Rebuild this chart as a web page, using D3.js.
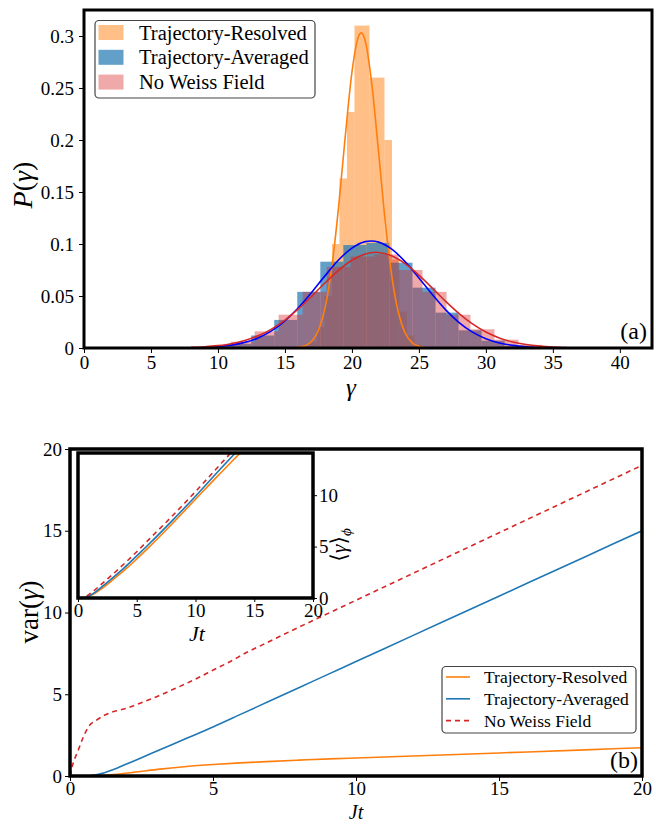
<!DOCTYPE html>
<html><head><meta charset="utf-8">
<script src="https://cdn.jsdelivr.net/npm/d3@7"></script>
<style>
body{margin:0;background:#fff}
svg{display:block}
</style>
</head><body>
<svg id="chart" width="656" height="824"></svg>
<script>
// ---------------- DATA ----------------
const seriesNames = ["Trajectory-Resolved", "Trajectory-Averaged", "No Weiss Field"];

// histogram (a): first bin left edge, bin width, bar heights P(gamma)
const histResolvedStart = 16.27, histResolvedWidth = 0.56;
const histResolved = [0.002, 0.006, 0.02, 0.05, 0.1, 0.163, 0.227, 0.31, 0.31, 0.26, 0.26, 0.2, 0.085, 0.035, 0.012, 0.003];
const histAveragedStart = 9.04, histAveragedWidth = 1.72;
const histAveraged = [0.001, 0.004, 0.012, 0.027, 0.054, 0.083, 0.099, 0.101, 0.082, 0.058, 0.034, 0.017, 0.007, 0.002];
const histNoWeissStart = 9.16, histNoWeissWidth = 1.79;
const histNoWeiss = [0.002, 0.006, 0.016, 0.032, 0.054, 0.078, 0.088, 0.09, 0.075, 0.054, 0.032, 0.018, 0.008, 0.003];

// fitted curves (a): gamma samples and P values
const fitResolvedG = [16, 16.5, 17, 17.5, 18, 18.5, 19, 19.5, 20, 20.5, 20.7, 21, 21.5, 22, 22.5, 23, 23.5, 24, 24.5, 25, 25.5];
const fitResolvedP = [0.0006, 0.0021, 0.0064, 0.017, 0.039, 0.078, 0.135, 0.203, 0.265, 0.300, 0.303, 0.295, 0.252, 0.187, 0.120, 0.067, 0.0325, 0.0137, 0.005, 0.0016, 0.0004];
const fitAveragedG = [9, 10, 11, 12, 13, 14, 15, 16, 17, 18, 19, 20, 21, 21.43, 22, 23, 24, 25, 26, 27, 28, 29, 30, 31, 32, 33, 34];
const fitAveragedP = [0.0006, 0.0013, 0.0028, 0.0054, 0.0097, 0.0164, 0.0261, 0.0387, 0.0536, 0.0696, 0.0846, 0.0961, 0.1023, 0.1029, 0.1018, 0.0948, 0.0826, 0.0674, 0.0514, 0.0367, 0.0245, 0.0153, 0.0090, 0.0049, 0.0025, 0.0012, 0.0005];
const fitNoWeissG = [8, 9, 10, 11, 12, 13, 14, 15, 16, 17, 18, 19, 20, 21, 21.8, 22, 23, 24, 25, 26, 27, 28, 29, 30, 31, 32, 33, 34, 35, 36];
const fitNoWeissP = [0.0006, 0.0012, 0.0023, 0.0041, 0.0072, 0.0117, 0.0182, 0.0269, 0.0376, 0.0498, 0.0627, 0.0747, 0.0844, 0.0904, 0.092, 0.0919, 0.0885, 0.0809, 0.0701, 0.0576, 0.0448, 0.0331, 0.0232, 0.0154, 0.0097, 0.0058, 0.0033, 0.0018, 0.0009, 0.0004];

// (b) var(gamma) vs Jt
const varResolvedJt = [0, 0.6, 1.0, 1.4, 2.2, 3.15, 4.08, 5.01, 5.94, 6.87, 8, 9.09, 10, 12, 14, 16, 18, 20];
const varResolved   = [0, 0, 0.03, 0.08, 0.22, 0.42, 0.58, 0.7, 0.8, 0.88, 0.97, 1.05, 1.1, 1.22, 1.35, 1.47, 1.6, 1.73];
const varAveragedJt = [0, 0.5, 1, 1.5, 2, 2.5, 3, 4, 5, 6, 7, 8, 9, 10, 12, 14, 16, 18, 20];
const varAveraged   = [0, 0, 0.1, 0.38, 0.75, 1.12, 1.5, 2.25, 3.0, 3.8, 4.6, 5.4, 6.2, 7.0, 8.6, 10.2, 11.8, 13.4, 15.0];
const varNoWeissJt  = [0, 0.06, 0.29, 0.47, 0.64, 0.93, 1.22, 1.63, 1.98, 2.45, 3.03, 3.61, 4.08, 4.55, 5.01, 5.59, 6.17, 6.76, 8, 9.09, 10, 12, 14, 16, 18, 20];
const varNoWeiss    = [0, 0.47, 1.59, 2.4, 3.0, 3.42, 3.73, 3.99, 4.14, 4.45, 4.85, 5.3, 5.67, 6.07, 6.48, 6.99, 7.55, 8.05, 9.1, 10.0, 10.75, 12.4, 14.05, 15.7, 17.35, 19.0];

// inset: <gamma>_phi vs Jt
const meanResolvedJt = [0, 0.5, 1, 1.5, 2, 3, 4, 5, 6, 8, 10, 12, 13.8, 14.3];
const meanResolved   = [0, 0, 0.2, 0.5, 0.9, 1.8, 2.75, 3.8, 4.9, 7.2, 9.6, 12.0, 14.1, 14.7];
const meanAveragedJt = [0, 0.5, 1, 1.5, 2, 3, 4, 5, 6, 8, 10, 12, 13.4, 14];
const meanAveraged   = [0, 0.02, 0.25, 0.6, 1.05, 2.0, 3.0, 4.1, 5.2, 7.5, 9.9, 12.4, 14.1, 14.8];
const meanNoWeissJt  = [0, 0.5, 1, 1.5, 2, 3, 4, 5, 6, 8, 10, 12, 13, 14];
const meanNoWeiss    = [0, 0.05, 0.4, 0.85, 1.35, 2.35, 3.4, 4.5, 5.65, 7.95, 10.35, 12.85, 14.1, 15.3];

// ticks
const histXTicks = [0, 5, 10, 15, 20, 25, 30, 35, 40];
const histYTicks = [0, 0.05, 0.1, 0.15, 0.2, 0.25, 0.3];
const histYTickLabels = ["0", "0.05", "0.1", "0.15", "0.2", "0.25", "0.3"];
const varTicks = [0, 5, 10, 15, 20];
const insetXTicks = [0, 5, 10, 15, 20];
const insetYTicks = [0, 5, 10];

// ---------------- STYLE ----------------
const FONT = "'Liberation Serif', 'DejaVu Serif', 'Noto Serif', serif";
const C = {orange: "#ff7f0e", blue: "#1f77b4", red: "#d62728", fitBlue: "#0000ff"};
const svg = d3.select("#chart");
const FS = 19;

function styleAxis(g, fs) {
  g.select(".domain").remove();
  g.attr("font-family", null);
  g.selectAll(".tick line").attr("stroke", "#000").attr("stroke-width", 1);
  g.selectAll(".tick text").attr("font-size", fs);
}

// ---------------- PANEL (a) ----------------
const xa = d3.scaleLinear().domain([0, 42.4]).range([84, 652]);
const ya = d3.scaleLinear().domain([0, 0.325]).range([348, 10]);

svg.append("clipPath").attr("id", "clipA").append("rect")
  .attr("x", 84).attr("y", 10).attr("width", 568).attr("height", 338);
const gA = svg.append("g").attr("clip-path", "url(#clipA)");

function drawHist(vals, start, width, color, op) {
  gA.append("g").selectAll("rect").data(vals).join("rect")
    .attr("x", (d, i) => xa(start + i * width))
    .attr("width", (d, i) => xa(start + (i + 1) * width) - xa(start + i * width))
    .attr("y", d => ya(d))
    .attr("height", d => ya(0) - ya(d))
    .attr("fill", color).attr("fill-opacity", op);
}
drawHist(histResolved, histResolvedStart, histResolvedWidth, C.orange, 0.5);
drawHist(histAveraged, histAveragedStart, histAveragedWidth, C.blue, 0.7);
drawHist(histNoWeiss, histNoWeissStart, histNoWeissWidth, C.red, 0.4);

const lineA = d3.line().x(d => xa(d[0])).y(d => ya(d[1])).curve(d3.curveMonotoneX);
function drawFit(G, P, color) {
  gA.append("path").datum(G.map((g, i) => [g, P[i]]))
    .attr("d", lineA).attr("fill", "none").attr("stroke", color).attr("stroke-width", 1.6);
}
drawFit(fitResolvedG, fitResolvedP, C.orange);
drawFit(fitAveragedG, fitAveragedP, C.fitBlue);
drawFit(fitNoWeissG, fitNoWeissP, C.red);

// axes (a)
const axA_x = svg.append("g").attr("transform", "translate(0,348)")
  .call(d3.axisBottom(xa).tickValues(histXTicks).tickSize(5).tickPadding(3).tickFormat(d3.format("d")));
styleAxis(axA_x, FS);
const axA_y = svg.append("g").attr("transform", "translate(84,0)")
  .call(d3.axisLeft(ya).tickValues(histYTicks).tickSize(5).tickPadding(5).tickFormat((d, i) => histYTickLabels[i]));
styleAxis(axA_y, FS);
svg.append("rect").attr("x", 84).attr("y", 10).attr("width", 568).attr("height", 338)
  .attr("fill", "none").attr("stroke", "#000").attr("stroke-width", 3);

// labels (a)
svg.append("text").attr("transform", "translate(32,185) rotate(-90)").attr("text-anchor", "middle")
  .attr("font-size", 28).html('<tspan font-style="italic">P</tspan>(<tspan font-style="italic">γ</tspan>)');
svg.append("text").attr("x", 351).attr("y", 396).attr("text-anchor", "middle")
  .attr("font-size", 25).attr("font-style", "italic").text("γ");
svg.append("text").attr("x", 647).attr("y", 339).attr("text-anchor", "end")
  .attr("font-size", 24).text("(a)");

// legend (a)
const legA = svg.append("g");
legA.append("rect").attr("x", 95).attr("y", 20.5).attr("width", 220).attr("height", 77.5).attr("rx", 4)
  .attr("fill", "#fff").attr("fill-opacity", 0.8).attr("stroke", "#444").attr("stroke-width", 1.2);
const legAColors = [[C.orange, 0.5], [C.blue, 0.7], [C.red, 0.4]];
seriesNames.forEach((n, i) => {
  const cy = 32.5 + i * 24.8;
  legA.append("rect").attr("x", 98.5).attr("y", cy - 7.5).attr("width", 25).attr("height", 15)
    .attr("fill", legAColors[i][0]).attr("fill-opacity", legAColors[i][1]);
  legA.append("text").attr("x", 139).attr("y", cy + 7).attr("font-size", 20.5).text(n);
});

// ---------------- PANEL (b) ----------------
const xb = d3.scaleLinear().domain([0, 20]).range([70, 642]);
const yb = d3.scaleLinear().domain([0, 20]).range([776, 449]);
svg.append("clipPath").attr("id", "clipB").append("rect")
  .attr("x", 70).attr("y", 449).attr("width", 572).attr("height", 327);
const gB = svg.append("g").attr("clip-path", "url(#clipB)");
const lineB = d3.line().x(d => xb(d[0])).y(d => yb(d[1])).curve(d3.curveMonotoneX);
function drawVar(T, V, color, dash) {
  gB.append("path").datum(T.map((t, i) => [t, V[i]])).attr("d", lineB)
    .attr("fill", "none").attr("stroke", color).attr("stroke-width", 1.6)
    .attr("stroke-dasharray", dash || null);
}
drawVar(varResolvedJt, varResolved, C.orange);
drawVar(varAveragedJt, varAveraged, C.blue);
drawVar(varNoWeissJt, varNoWeiss, C.red, "5,4");

const axB_x = svg.append("g").attr("transform", "translate(0,776)")
  .call(d3.axisBottom(xb).tickValues(varTicks).tickSize(5).tickPadding(1));
styleAxis(axB_x, FS);
const axB_y = svg.append("g").attr("transform", "translate(70,0)")
  .call(d3.axisLeft(yb).tickValues(varTicks).tickSize(5).tickPadding(3));
styleAxis(axB_y, FS);
svg.append("rect").attr("x", 70).attr("y", 449).attr("width", 572).attr("height", 327)
  .attr("fill", "none").attr("stroke", "#000").attr("stroke-width", 3.5);

svg.append("text").attr("transform", "translate(38,612) rotate(-90)").attr("text-anchor", "middle")
  .attr("font-size", 27).html('var(<tspan font-style="italic">γ</tspan>)');
svg.append("text").attr("x", 356).attr("y", 819).attr("text-anchor", "middle")
  .attr("font-size", 20).attr("font-style", "italic").text("Jt");
svg.append("text").attr("x", 638).attr("y", 768).attr("text-anchor", "end")
  .attr("font-size", 24).text("(b)");

// legend (b)
const legB = svg.append("g");
legB.append("rect").attr("x", 442).attr("y", 666.5).attr("width", 194).attr("height", 66.5).attr("rx", 4)
  .attr("fill", "#fff").attr("fill-opacity", 0.8).attr("stroke", "#444").attr("stroke-width", 1.2);
const legBColors = [C.orange, C.blue, C.red];
seriesNames.forEach((n, i) => {
  const cy = 677 + i * 21.8;
  legB.append("line").attr("x1", 446).attr("x2", 470).attr("y1", cy).attr("y2", cy)
    .attr("stroke", legBColors[i]).attr("stroke-width", 1.6)
    .attr("stroke-dasharray", i === 2 ? "5,4" : null);
  legB.append("text").attr("x", 484).attr("y", cy + 6).attr("font-size", 17.5).text(n);
});

// ---------------- INSET ----------------
const xi = d3.scaleLinear().domain([0, 20]).range([78, 313]);
const yi = d3.scaleLinear().domain([0, 14.1]).range([598, 453]);
svg.append("rect").attr("x", 78).attr("y", 453).attr("width", 235).attr("height", 145).attr("fill", "#fff");
svg.append("clipPath").attr("id", "clipI").append("rect")
  .attr("x", 78).attr("y", 453).attr("width", 235).attr("height", 145);
const gI = svg.append("g").attr("clip-path", "url(#clipI)");
const lineI = d3.line().x(d => xi(d[0])).y(d => yi(d[1])).curve(d3.curveMonotoneX);
function drawMean(T, V, color, dash) {
  gI.append("path").datum(T.map((t, i) => [t, V[i]])).attr("d", lineI)
    .attr("fill", "none").attr("stroke", color).attr("stroke-width", 1.6)
    .attr("stroke-dasharray", dash || null);
}
drawMean(meanResolvedJt, meanResolved, C.orange);
drawMean(meanAveragedJt, meanAveraged, C.blue);
drawMean(meanNoWeissJt, meanNoWeiss, C.red, "5,4");

const axI_x = svg.append("g").attr("transform", "translate(0,598)")
  .call(d3.axisBottom(xi).tickValues(insetXTicks).tickSize(4).tickPadding(2));
styleAxis(axI_x, FS);
const axI_y = svg.append("g").attr("transform", "translate(313,0)")
  .call(d3.axisRight(yi).tickValues(insetYTicks).tickSize(4).tickPadding(2));
styleAxis(axI_y, FS);
svg.append("rect").attr("x", 78).attr("y", 453).attr("width", 235).attr("height", 145)
  .attr("fill", "none").attr("stroke", "#000").attr("stroke-width", 3.5);
svg.append("text").attr("x", 197).attr("y", 641).attr("text-anchor", "middle")
  .attr("font-size", 22).attr("font-style", "italic").text("Jt");
svg.append("text").attr("transform", "translate(346,545) rotate(-90)").attr("text-anchor", "middle")
  .attr("font-size", 22).html('⟨<tspan font-style="italic">γ</tspan>⟩<tspan font-style="italic" font-size="15" dy="5">ϕ</tspan>');

// apply serif font to every text
svg.selectAll("text").style("font-family", FONT).style("fill", "#000");
</script>
</body></html>
